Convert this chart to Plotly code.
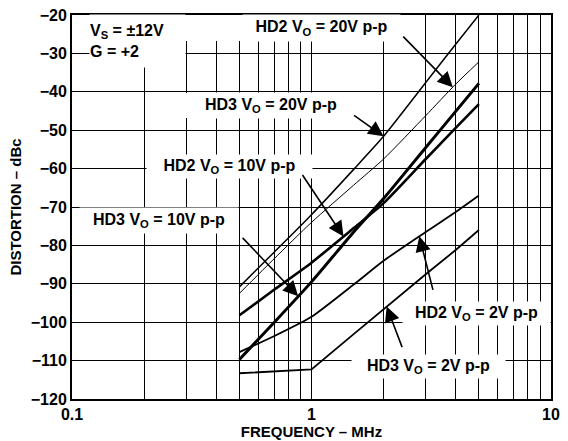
import numpy as np
import plotly.graph_objects as go

# ---------------- data ----------------
freq_mhz = [0.5, 0.7, 1.0, 1.5, 2.0, 3.0, 4.0, 5.0]
hd3_20v = [-90.8, -81.7, -72.0, -60.2, -51.6, -37.6, -27.6, -20.0]
hd2_20v = [-92.5, -83.4, -74.0, -64.3, -57.5, -46.2, -38.0, -32.2]
hd2_10v = [-98.2, -91.5, -84.5, -75.5, -69.0, -57.5, -49.4, -43.2]
hd3_10v = [-109.7, -100.0, -89.5, -76.5, -67.8, -54.5, -45.1, -37.8]
hd2_2v = [-107.8, -103.6, -98.6, -90.2, -84.0, -76.5, -71.3, -67.0]
hd3_2v = [-113.3, -112.9, -112.3, -103.1, -96.6, -87.5, -81.2, -76.0]

x_tick_vals = [0.1, 1, 10]
x_tick_text = ["0.1", "1", "10"]
x_minor_vals = [0.2, 0.3, 0.4, 0.5, 0.6, 0.7, 0.8, 0.9, 2, 3, 4, 5, 6, 7, 8, 9]
y_tick_vals = [-120, -110, -100, -90, -80, -70, -60, -50, -40, -30, -20]
y_tick_text = ["\u2212" + str(abs(v)) for v in y_tick_vals]

FONT = "Liberation Sans"

# plot-area geometry in pixels (for placing label boxes)
W, H = 568, 441
L, R, T, B = 72, 17, 15, 42
PW, PH = W - L - R, H - T - B


def px2paper(px, py):
    return (px - L) / PW, (H - B - py) / PH


fig = go.Figure()

series = [
    (hd3_20v, 1.5, "spline"),
    (hd2_20v, 1.0, "spline"),
    (hd2_10v, 2.6, "spline"),
    (hd3_10v, 3.0, "spline"),
    (hd2_2v, 1.8, "spline"),
    (hd3_2v, 1.8, "linear"),
]
for vals, lw, shape in series:
    fig.add_trace(go.Scatter(
        x=freq_mhz, y=vals, mode="lines",
        line=dict(color="black", width=lw, shape=shape, smoothing=0.6),
        showlegend=False, hoverinfo="skip",
    ))

# ---------------- labels (white boxes) ----------------
# (text, box left, box right, box top, box bottom, align)
labels = [
    ("V<sub>S</sub> = \u00b112V<br>G = +2", 90, 185, 15, 67, "left"),
    ("HD2 V<sub>O</sub> = 20V p-p", 243, 400, 15, 41, "center"),
    ("HD3 V<sub>O</sub> = 20V p-p", 190, 352, 93, 118, "center"),
    ("HD2 V<sub>O</sub> = 10V p-p", 147, 312, 155, 178, "center"),
    ("HD3 V<sub>O</sub> = 10V p-p", 80, 238, 208, 233, "center"),
    ("HD2 V<sub>O</sub> = 2V p-p", 403, 550, 302, 325, "center"),
    ("HD3 V<sub>O</sub> = 2V p-p", 352, 505, 355, 378, "center"),
]
# extra white areas around labels that hide the grid in the reference
masks = [(150, 243, 15, 41), (178, 190, 93, 118)]

annotations = []
for text, x0, x1, y0, y1, align in labels:
    cx, cy = px2paper((x0 + x1) / 2, (y0 + y1) / 2)
    annotations.append(dict(
        text=text, xref="paper", yref="paper", x=cx, y=cy,
        xanchor="center", yanchor="middle", showarrow=False,
        width=x1 - x0, height=y1 - y0, align=align, valign="middle",
        bgcolor="white", borderpad=0,
        font=dict(family=FONT, size=16, color="black", weight="bold"),
    ))

shapes = []
for x0, x1, y0, y1 in masks:
    px0, py1 = px2paper(x0, y0)
    px1, py0 = px2paper(x1, y1)
    shapes.append(dict(type="rect", xref="paper", yref="paper",
                       x0=px0, x1=px1, y0=py0, y1=py1,
                       fillcolor="white", line=dict(width=0), layer="above"))

# ---------------- arrows: tip on the curve at a given frequency ----------------
# (series, tip frequency, tail offset x px, tail offset y px)
arrows = [
    (hd2_20v, 3.89, -51, -52),
    (hd3_20v, 2.0, -31, -22),
    (hd2_10v, 1.36, -42, -63),
    (hd3_10v, 0.88, -57, -60),
    (hd2_2v, 2.82, 14, 55),
    (hd3_2v, 2.06, 16, 42),
]
lf = np.log10(freq_mhz)
for vals, f, ax, ay in arrows:
    yv = float(np.interp(np.log10(f), lf, vals))
    annotations.append(dict(
        text="", x=np.log10(f), y=yv, xref="x", yref="y",
        showarrow=True, arrowhead=2, arrowsize=1.9, arrowwidth=1.6,
        arrowcolor="black", ax=ax, ay=ay, standoff=0,
    ))

axis_common = dict(
    showline=True, linecolor="black", linewidth=2, mirror=True,
    showgrid=True, gridcolor="black", gridwidth=1.2,
    ticks="", zeroline=False, automargin=False,
    tickfont=dict(family=FONT, size=16, color="black", weight="bold"),
)

fig.update_layout(
    width=W, height=H,
    margin=dict(l=L, r=R, t=T, b=B, autoexpand=False),
    paper_bgcolor="white", plot_bgcolor="white",
    showlegend=False,
    annotations=annotations,
    shapes=shapes,
    xaxis=dict(
        type="log", range=[-1, 1],
        tickvals=x_tick_vals, ticktext=x_tick_text,
        minor=dict(tickvals=x_minor_vals, showgrid=True,
                   gridcolor="black", gridwidth=1.2, ticks=""),
        title=dict(text="FREQUENCY \u2013 MHz", standoff=4,
                   font=dict(family=FONT, size=15, color="black", weight="bold")),
        **axis_common,
    ),
    yaxis=dict(
        range=[-120, -20],
        tickvals=y_tick_vals, ticktext=y_tick_text,
        title=dict(text="DISTORTION \u2013 dBc", standoff=6,
                   font=dict(family=FONT, size=15, color="black", weight="bold")),
        **axis_common,
    ),
)

fig.write_html(
    "out.html",
    config={"displayModeBar": False},
    post_script="document.body.style.margin='0';document.body.style.overflow='hidden';",
)
